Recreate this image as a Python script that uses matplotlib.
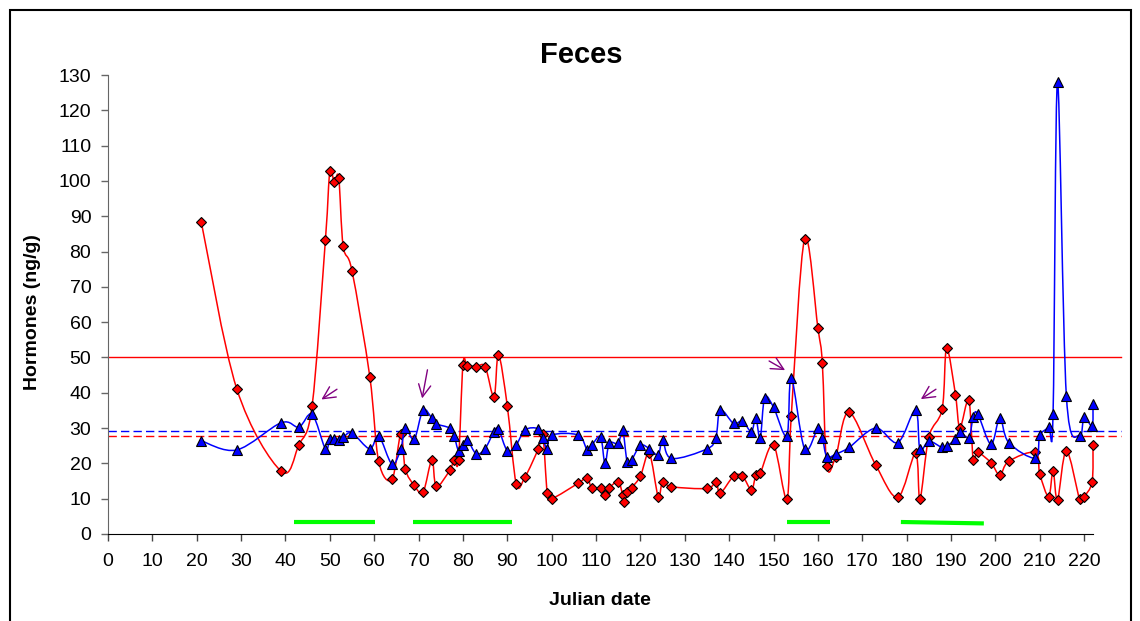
import numpy as np
import matplotlib.pyplot as plt
from matplotlib.path import Path
from matplotlib.patches import PathPatch, Rectangle

plt.rcParams['font.family'] = ['Liberation Sans', 'DejaVu Sans']

# red series (diamonds)
red_days = [21, 29, 39, 43, 46, 49, 50, 51, 52, 53, 55, 59, 61, 64, 66, 67, 69, 71,
            73, 74, 77, 78, 79, 80, 81, 83, 85, 87, 88, 90, 92, 94, 97, 98, 99, 100,
            106, 108, 109, 111, 112, 113, 115, 116, 116.2, 117, 118, 120, 122, 124,
            125, 127, 135, 137, 138, 141, 143, 145, 146, 147, 150, 153, 154, 157,
            160, 161, 162, 164, 167, 173, 178, 182, 183, 185, 188, 189, 191, 192,
            194, 195, 196, 199, 201, 203, 209, 210, 212, 213, 214, 216, 219, 220,
            221.8, 222]
red_vals = [88.5, 41.2, 17.8, 25.2, 36.3, 83.3, 102.7, 99.6, 100.9, 81.6, 74.5, 44.6,
            20.6, 15.5, 28.3, 18.4, 13.8, 11.8, 21.0, 13.5, 18.0, 21.0, 21.0, 47.9,
            47.7, 47.4, 47.4, 38.8, 50.8, 36.2, 14.3, 16.2, 24.2, 28.2, 11.6, 10.0,
            14.4, 16.0, 13.1, 12.9, 11.0, 13.1, 14.8, 11.0, 9.2, 12.0, 13.1, 16.4,
            22.8, 10.6, 14.8, 13.4, 12.9, 14.8, 11.6, 16.4, 16.4, 12.5, 16.6, 17.2,
            25.2, 10.0, 33.5, 83.6, 58.3, 48.3, 19.4, 21.9, 34.5, 19.6, 10.4, 22.8,
            10.0, 27.5, 35.4, 52.6, 39.5, 30.1, 37.9, 21.1, 23.1, 20.2, 16.7, 20.6,
            23.1, 17.0, 10.6, 17.9, 9.7, 23.6, 9.8, 10.6, 14.8, 25.2]

# blue series (triangles)
blue_days = [21, 29, 39, 43, 46, 49, 50, 51, 52, 53, 55, 59, 61, 64, 66, 67, 69, 71,
             73, 74, 77, 78, 79, 80, 81, 83, 85, 87, 88, 90, 92, 94, 97, 98, 99, 100,
             106, 108, 109, 111, 112, 113, 115, 116, 117, 118, 120, 122, 124, 125,
             127, 135, 137, 138, 141, 143, 145, 146, 147, 148, 150, 153, 154, 157,
             160, 161, 162, 164, 167, 173, 178, 182, 183, 185, 188, 189, 191, 192,
             194, 195, 196, 199, 201, 203, 209, 210, 212, 213, 214, 216, 219, 220,
             221.8, 222]
blue_vals = [26.4, 23.8, 31.5, 30.3, 33.9, 24.1, 27.0, 27.0, 26.6, 27.4, 28.6, 24.1,
             27.8, 19.8, 24.1, 30.1, 26.8, 35.1, 32.8, 31.2, 30.0, 27.8, 23.6, 25.1,
             26.6, 22.7, 24.2, 29.0, 29.7, 23.6, 25.2, 29.5, 29.8, 27.1, 24.1, 28.0,
             28.0, 23.8, 25.1, 27.5, 20.0, 25.7, 25.7, 29.5, 20.5, 21.0, 25.1, 24.2,
             22.4, 26.6, 21.4, 24.1, 27.3, 35.1, 31.3, 32.0, 29.0, 32.9, 27.1, 38.6,
             35.9, 27.8, 44.3, 24.1, 29.9, 27.3, 21.9, 22.6, 24.5, 30.0, 25.9, 35.1,
             24.0, 26.3, 24.5, 24.9, 26.8, 29.0, 27.3, 33.0, 34.1, 25.4, 32.8, 25.9,
             21.5, 27.9, 30.4, 34.1, 128.1, 39.1, 27.8, 33.1, 30.6, 36.7]

# reference levels
red_limit = 50.0
blue_mean = 29.2
red_mean = 27.7

# green bars: (start day, end day, start level, end level)
bar_start = [42, 68.8, 153.1, 178.7]
bar_end = [60.1, 91.1, 162.7, 197.4]
bar_y0 = [3.3, 3.3, 3.3, 3.4]
bar_y1 = [3.3, 3.3, 3.3, 3.0]

# arrows: tail -> head
arrow_tail = [(51.6, 41.0), (72.0, 46.5), (149.0, 49.0), (186.6, 41.0)]
arrow_head = [(48.1, 38.1), (70.8, 38.4), (152.6, 46.4), (183.2, 38.2)]


def smooth_path(x, y):
    # Excel-style smoothed line: cubic Bezier through every point
    pts = np.column_stack([x, y]).astype(float)
    n = len(pts)
    verts = [pts[0]]
    codes = [Path.MOVETO]
    for i in range(n - 1):
        p0 = pts[i - 1] if i > 0 else pts[i]
        p1 = pts[i]
        p2 = pts[i + 1]
        p3 = pts[i + 2] if i + 2 < n else pts[i + 1]
        verts += [p1 + (p2 - p0) / 6, p2 - (p3 - p1) / 6, p2]
        codes += [Path.CURVE4] * 3
    return Path(verts, codes)


W, H = 1140, 621
fig = plt.figure(figsize=(W / 100, H / 100), dpi=100)
ax = fig.add_axes([108 / W, 87 / H, (1093 - 108) / W, 459 / H])

# reference lines run a little past the last tick
x_far = 228.4
ax.plot([0, x_far], [red_limit, red_limit], color='#FF0000', lw=1.0, clip_on=False, zorder=1)
ax.plot([0, x_far], [blue_mean, blue_mean], color='#0000FF', lw=1.0, ls=(0, (6, 3)),
        clip_on=False, zorder=1)
ax.plot([0, x_far], [red_mean, red_mean], color='#FF0000', lw=1.0, ls=(0, (6, 3)),
        clip_on=False, zorder=1)

ax.add_patch(PathPatch(smooth_path(red_days, red_vals), fill=False, ec='#FF0000', lw=1.1,
                       zorder=2, clip_on=False))
ax.plot(red_days, red_vals, ls='none', marker='D', ms=4.9, mfc='#FF0000', mec='black',
        mew=0.8, zorder=3, clip_on=False)
ax.add_patch(PathPatch(smooth_path(blue_days, blue_vals), fill=False, ec='#0000FF', lw=1.1,
                       zorder=4, clip_on=False))
ax.plot(blue_days, blue_vals, ls='none', marker='^', ms=6.8, mfc='#0000FF', mec='black',
        mew=0.8, zorder=5, clip_on=False)

for x0, x1, y0, y1 in zip(bar_start, bar_end, bar_y0, bar_y1):
    ax.plot([x0, x1], [y0, y1], color='#00FF00', lw=3.0, solid_capstyle='butt', zorder=2)

for tail, head in zip(arrow_tail, arrow_head):
    ax.annotate('', xy=head, xytext=tail,
                arrowprops=dict(arrowstyle='->', color='#800080', lw=1.0,
                                mutation_scale=22, shrinkA=0, shrinkB=0))

ax.set_xlim(0, 222)
ax.set_ylim(0, 130)
ax.set_xticks(np.arange(0, 221, 10))
ax.set_yticks(np.arange(0, 131, 10))
for s in ['top', 'right']:
    ax.spines[s].set_visible(False)
ax.spines['left'].set_color('#666666')
ax.spines['bottom'].set_color('black')
ax.tick_params(axis='both', direction='out', length=5, width=1, labelsize=14)
ax.tick_params(axis='x', pad=9, colors='#444444', labelcolor='black')
ax.tick_params(axis='y', pad=7, colors='#666666', labelcolor='black')

fig.text(581 / W, 1 - 63 / H, 'Feces', ha='center', va='baseline', fontsize=21,
         fontweight='bold')
fig.text(600 / W, 1 - 605 / H, 'Julian date', ha='center', va='baseline', fontsize=14,
         fontweight='bold')
fig.text(33 / W, 1 - 312 / H, 'Hormones (ng/g)', ha='center', va='center', rotation=90,
         fontsize=14, fontweight='bold')

# outer frame
fig.patches.append(Rectangle((10 / W, -0.05), (1131 - 10) / W, 1.05 - 10 / H,
                             transform=fig.transFigure, fill=False, ec='black', lw=1.5))

fig.savefig('out.png', dpi=100)
